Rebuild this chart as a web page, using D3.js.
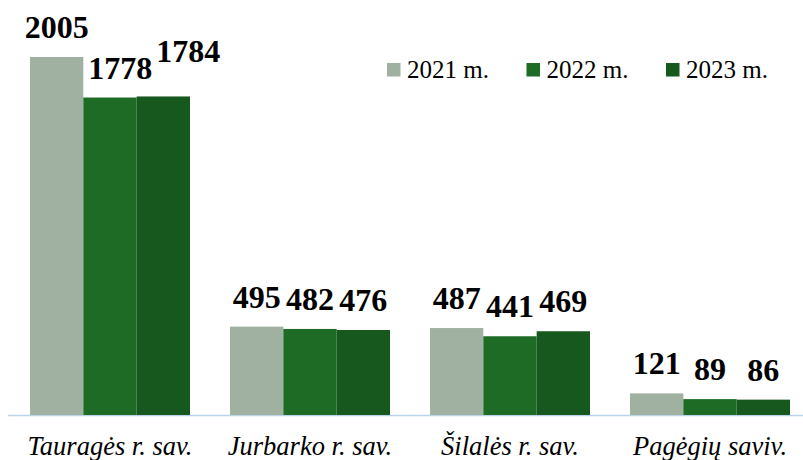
<!DOCTYPE html>
<html><head><meta charset="utf-8">
<script src="https://cdn.jsdelivr.net/npm/d3@7/dist/d3.min.js"></script>
<style>body{margin:0;background:#fff}svg{display:block}text{font-family:"Liberation Serif","Times New Roman",serif}</style>
</head><body>
<script>
const categories = ["Tauragės r. sav.", "Jurbarko r. sav.", "Šilalės r. sav.", "Pagėgių saviv."];
const seriesNames = ["2021 m.", "2022 m.", "2023 m."];
const values2021 = [2005, 495, 487, 121];
const values2022 = [1778, 482, 441, 89];
const values2023 = [1784, 476, 469, 86];
const colors = ["#a0b1a1", "#1d6b25", "#16581e"];

const W = 803, H = 460;
const series = [values2021, values2022, values2023];
const svg = d3.select("body").append("svg").attr("width", W).attr("height", H);

const baseY = 415;
const x0 = d3.scaleBand().domain(categories).range([10, 810]).paddingInner(0.2).paddingOuter(0.1);
const x1 = d3.scaleBand().domain(seriesNames).range([0, x0.bandwidth()]);
const y = d3.scaleLinear().domain([0, 2005]).range([baseY, 57]);

// baseline
svg.append("line").attr("x1", 8).attr("x2", W).attr("y1", baseY + 0.5).attr("y2", baseY + 0.5)
  .attr("stroke", "#bcd3ec").attr("stroke-width", 1.5);

const overlapY = (a0, a1, b0, b1) => a0 < b1 && a1 > b0;

categories.forEach((c, i) => {
  const g = svg.append("g").attr("transform", `translate(${x0(c)},0)`);
  const barBoxes = [];
  series.forEach((vals, s) => {
    const v = vals[i];
    const bx = x0(c) + x1(seriesNames[s]);
    g.append("rect").attr("x", x1(seriesNames[s])).attr("y", y(v))
      .attr("width", x1.bandwidth()).attr("height", baseY - y(v))
      .attr("fill", colors[s]);
    barBoxes.push({ left: bx, right: bx + x1.bandwidth(), top: y(v), bottom: baseY });
  });
  let prevLabel = null;
  const gap = 5, lh = 22;
  series.forEach((vals, s) => {
    const v = vals[i];
    const cx = x0(c) + x1(seriesNames[s]) + x1.bandwidth() / 2;
    let baseline = y(v) - 19;
    const t = svg.append("text").attr("x", cx).attr("y", baseline)
      .attr("text-anchor", "middle")
      .attr("font-weight", "bold").attr("font-size", 32).attr("fill", "#000")
      .text(v);
    const bb = t.node().getBBox();
    let left = bb.x;
    // real collision with previous label: lift a bit and push right
    if (prevLabel && overlapY(baseline - lh, baseline, prevLabel.top, prevLabel.bottom) && left < prevLabel.right) {
      baseline -= lh * 0.72;
      t.attr("y", baseline);
    }
    const top = baseline - lh, bottom = baseline;
    let minLeft = -Infinity;
    for (let k = 0; k < s; k++) {
      const b = barBoxes[k];
      if (overlapY(top, bottom, b.top, b.bottom)) minLeft = Math.max(minLeft, b.right + gap);
    }
    if (prevLabel && overlapY(top, bottom, prevLabel.top, prevLabel.bottom)) minLeft = Math.max(minLeft, prevLabel.right + 4);
    if (left < minLeft) {
      t.attr("x", cx + (minLeft - left));
      left = minLeft;
    }
    prevLabel = { right: left + bb.width, top, bottom };
  });
  svg.append("text").attr("x", x0(c) + x0.bandwidth() / 2).attr("y", 455)
    .attr("text-anchor", "middle")
    .attr("font-style", "italic").attr("font-size", 26.5).attr("fill", "#000")
    .text(c);
});

const legend = svg.append("g");
seriesNames.forEach((n, s) => {
  const lx = 387 + s * 139.5;
  legend.append("rect").attr("x", lx).attr("y", 63).attr("width", 13.5).attr("height", 13.5).attr("fill", colors[s]);
  legend.append("text").attr("x", lx + 20).attr("y", 78)
    .attr("font-size", 25).attr("fill", "#000").text(n);
});
</script>
</body></html>
